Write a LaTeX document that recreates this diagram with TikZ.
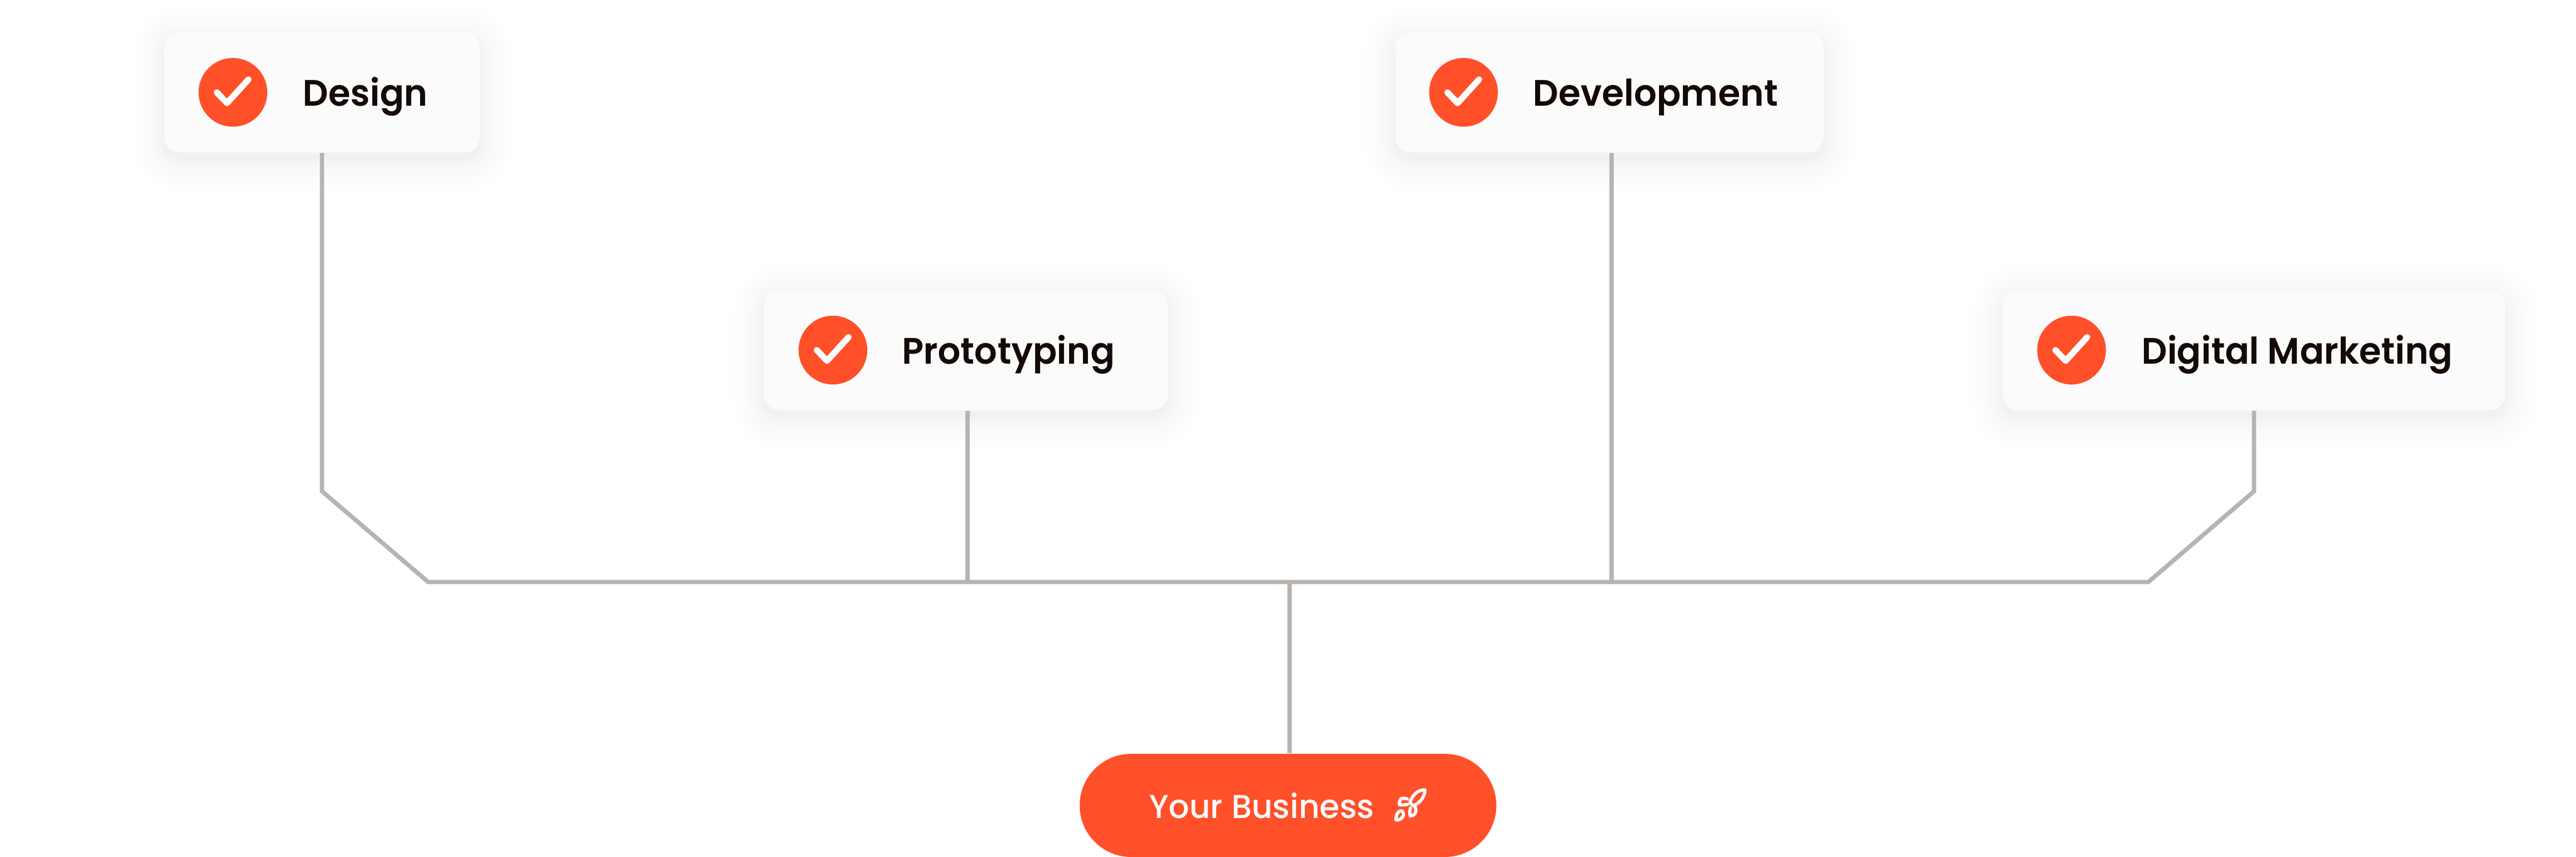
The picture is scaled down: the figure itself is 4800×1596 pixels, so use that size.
\documentclass[tikz,border=0pt]{standalone}
\usepackage{fontspec}
\setmainfont{Poppins}[UprightFont=* SemiBold,FakeStretch=0.97]
\newfontfamily\pillfont{Poppins Medium}[FakeStretch=0.98]
\usepackage{xcolor}
\usetikzlibrary{backgrounds,calc}
\definecolor{accentorange}{RGB}{255,80,41}
\definecolor{cardfill}{RGB}{251,251,251}
\definecolor{branchline}{RGB}{185,179,176}
\definecolor{cardtext}{RGB}{20,10,6}
\tikzset{
  card/.style={fill=cardfill,rounded corners=0.3cm,minimum height=2.24cm,inner sep=0pt},
  badge/.style={circle,fill=accentorange,minimum size=1.28cm,inner sep=0pt},
  cardlabel/.style={anchor=base west,font=\fontsize{19.5}{24}\selectfont,text=cardtext,inner sep=0pt},
  tick/.style={draw=cardfill,line width=0.115cm,line cap=round,line join=round},
  branch/.style={draw=branchline,line width=0.08cm,line join=miter},
  pill/.style={fill=accentorange,rounded corners=0.96cm,minimum width=7.76cm,minimum height=1.92cm,inner sep=0pt},
}
\newcommand{\cardrow}[7]{%
  \node[card,minimum width=#5cm] (#1) at (#2,#3) {};%
  \node[badge] (#1badge) at (#4,#3) {};%
  \draw[tick] ($(#1badge)+(-30,0)$) -- ++(19,-20) -- ++(40,44);%
  \node[cardlabel] (#1label) at (#6,#3-26) {#7};%
  \begin{scope}[on background layer]
    \foreach \sK in {1,...,14}{%
      \pgfmathsetmacro{\sGrow}{0.3*\sK*\sK}%
      \fill[black,opacity=0.0055,rounded corners={(30+\sGrow)*0.01cm}]
        ($(#1.south west)+(-\sGrow,-\sGrow-12)$) rectangle ($(#1.north east)+(\sGrow,\sGrow-12)$);%
    }
  \end{scope}%
}
\begin{document}
\begin{tikzpicture}[x=0.01cm,y=0.01cm]
  \useasboundingbox (0,0) rectangle (4800,-1596);
  \cardrow{design}{600}{-172}{434}{5.88}{564}{Design}
  \cardrow{proto}{1799.5}{-652}{1552}{7.53}{1680}{Prototyping}
  \cardrow{devel}{2999}{-172}{2727}{7.98}{2856}{Development}
  \cardrow{market}{4200}{-652}{3860}{9.36}{3990}{Digital Marketing}
  \node[pill] (business) at (2400,-1500) {};
  \node[anchor=base west,font=\pillfont\fontsize{17.5}{20}\selectfont,text=cardfill,inner sep=0pt] (businesslabel) at (2141,-1524) {Your Business};
  % rocket icon
  \begin{scope}[shift={(2590,-1460)},y=-0.01cm,draw=cardfill,line width=0.06cm,line join=round,line cap=round]
    \draw (65,11) .. controls (50,11) and (42,22) .. (37,34) -- (43,41) .. controls (55,36) and (65,25) .. cycle;
    \draw (32,28) .. controls (22,25) and (20,27) .. (18,32) .. controls (17,36) and (17,38) .. (18,39) .. controls (24,39) and (29,39) .. (33,38);
    \draw (47,43) .. controls (50,52) and (48,58) .. (38,60) .. controls (36,56) and (37,50) .. (38,45);
    \draw (11,67) .. controls (11,55) and (17,49) .. (22,50) .. controls (27,53) and (26,62) .. (20,65) .. controls (16,67) and (13,68) .. cycle;
  \end{scope}
  % branches
  \coordinate (hubtop) at (2403,-1084);
  \coordinate (protofoot) at (1803,-1084);
  \coordinate (develfoot) at (3003,-1084);
  \coordinate (leftelbow) at (600,-915);
  \coordinate (leftfoot) at (798,-1084);
  \coordinate (rightelbow) at (4200,-915);
  \coordinate (rightfoot) at (4003,-1084);
  \begin{scope}[on background layer]
    \draw[branch] (design.south -| leftelbow) -- (leftelbow) -- (leftfoot) -- (rightfoot) -- (rightelbow) -- (market.south -| rightelbow);
    \draw[branch] (protofoot |- proto.south) -- (protofoot);
    \draw[branch] (develfoot |- devel.south) -- (develfoot);
    \draw[branch] (hubtop) -- (hubtop |- business.north);
  \end{scope}
\end{tikzpicture}
\end{document}
